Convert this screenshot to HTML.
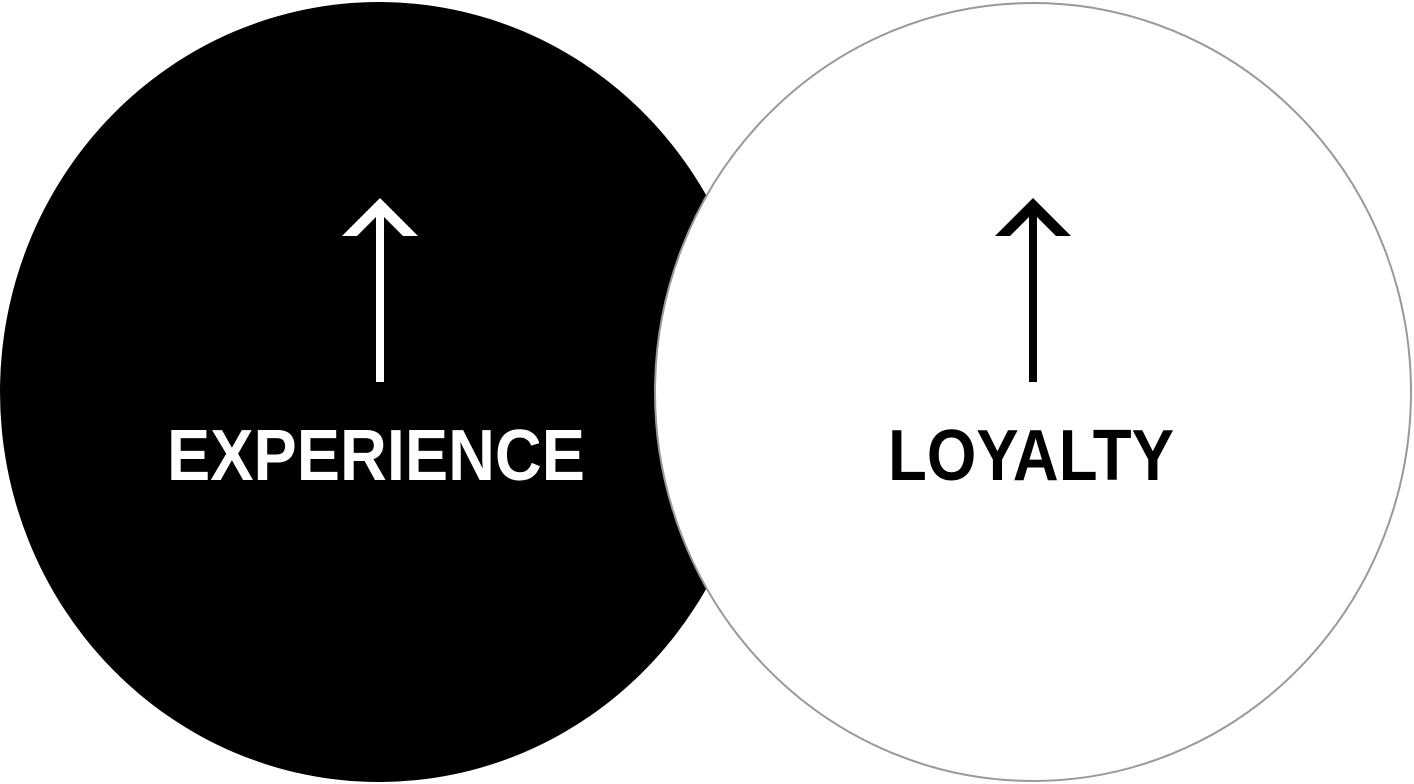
<!DOCTYPE html>
<html><head><meta charset="utf-8"><style>
html,body{margin:0;padding:0;background:#fff;}
svg{display:block;}
</style></head><body>
<svg width="1414" height="784" viewBox="0 0 1414 784" xmlns="http://www.w3.org/2000/svg">
<rect width="1414" height="784" fill="#fff"/>
<ellipse cx="379" cy="392" rx="379" ry="390" fill="#000"/>
<ellipse cx="1033" cy="392" rx="378" ry="389" fill="#fff" stroke="#999" stroke-width="2"/>
<rect x="376" y="205" width="8" height="177" fill="#fff"/>
<polygon points="342,236 380,198 418,236 403,236 380,213 357,236" fill="#fff"/>
<rect x="1029" y="205" width="8" height="177" fill="#000"/>
<polygon points="995,236 1033,198 1071,236 1056,236 1033,213 1010,236" fill="#000"/>
<text x="167" y="480" font-family="Liberation Sans, sans-serif" font-weight="bold" font-size="72" fill="#fff" textLength="418" lengthAdjust="spacingAndGlyphs">EXPERIENCE</text>
<text x="888" y="480" font-family="Liberation Sans, sans-serif" font-weight="bold" font-size="72" fill="#000" textLength="286" lengthAdjust="spacingAndGlyphs">LOYALTY</text>
</svg>
</body></html>
